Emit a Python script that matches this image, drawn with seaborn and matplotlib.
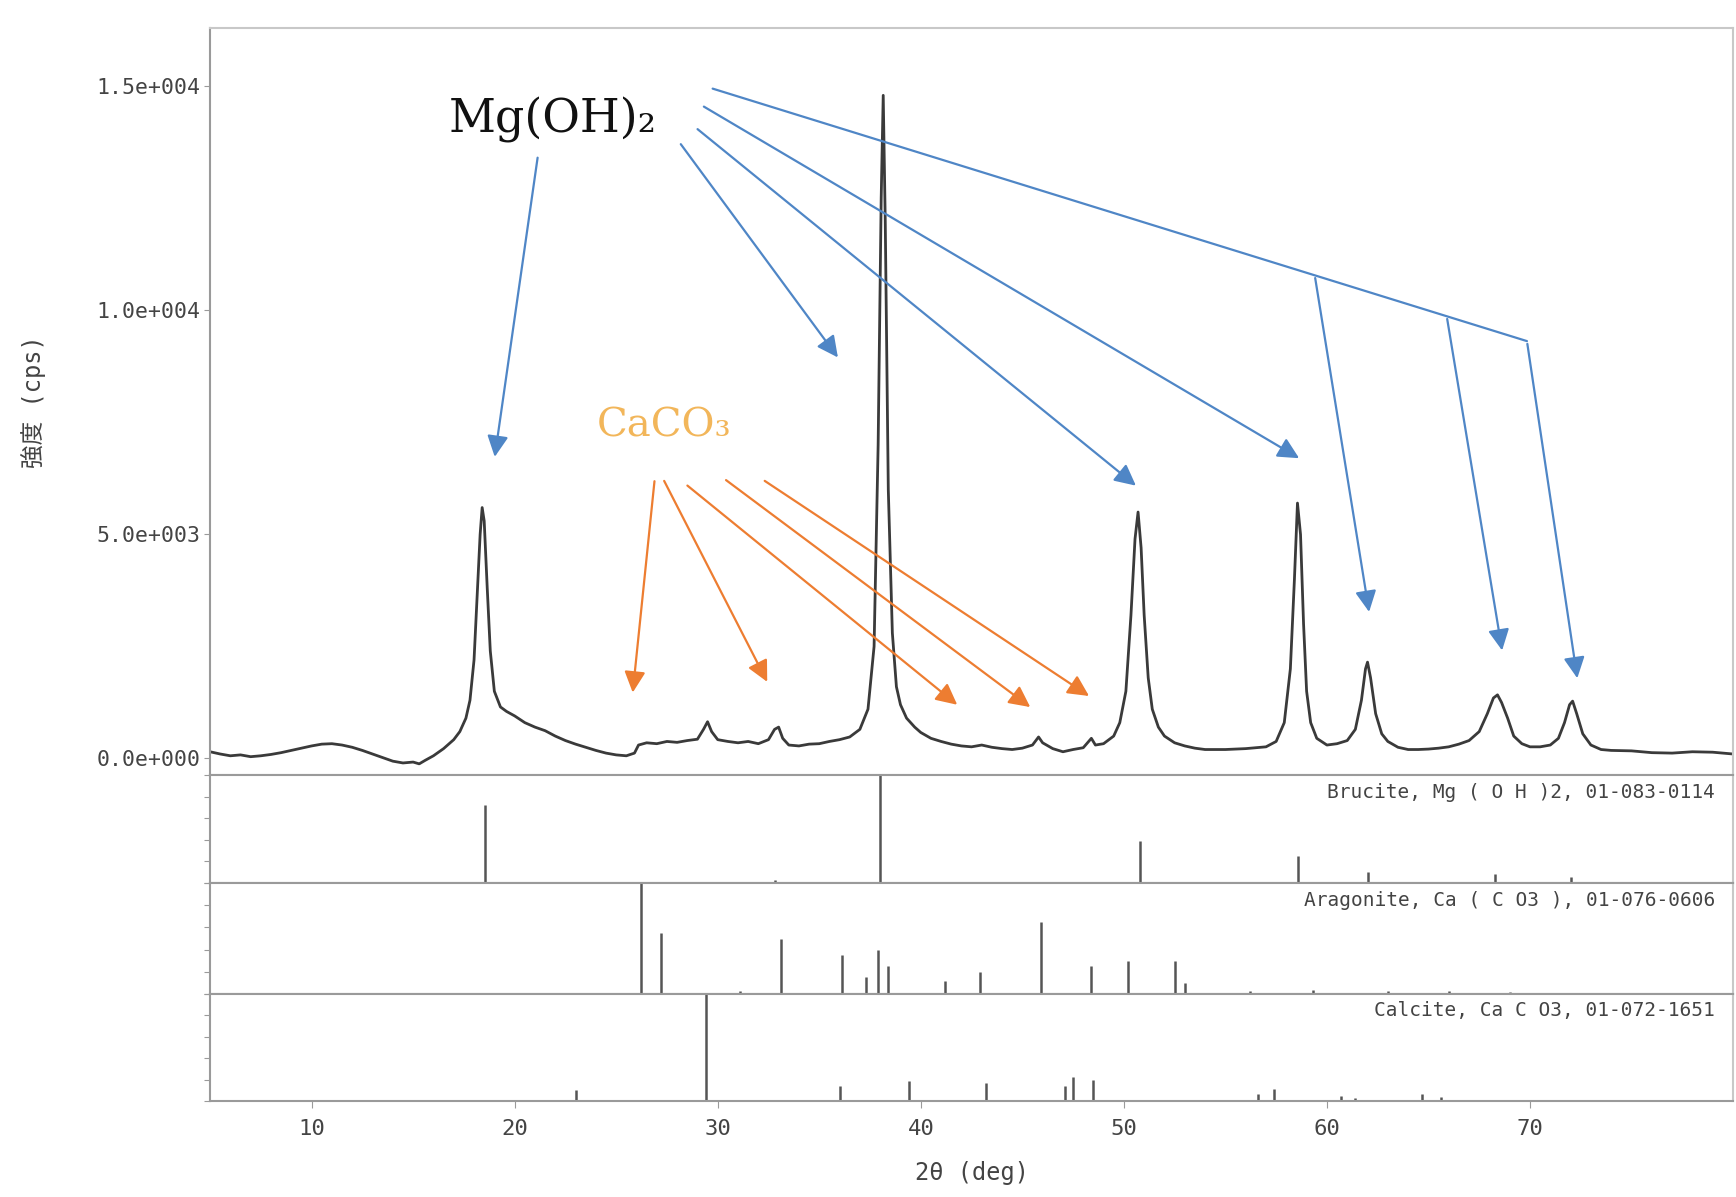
import seaborn as sns
import matplotlib.pyplot as plt
import numpy as np
import pandas as pd

sns.set_style("white")
plt.rcParams['font.family'] = ['DejaVu Sans Mono', 'Noto Sans CJK JP']

# 測定データ (2θ [deg], 強度 [cps]) 図から読み取り
two_theta = [5.0, 5.5, 6.0, 6.5, 7.0, 7.5, 8.0, 8.5, 9.0, 9.5, 10.0, 10.5, 11.0, 11.5, 12.0, 12.5,
             13.0, 13.5, 14.0, 14.5, 15.0, 15.3, 15.6, 16.0, 16.5, 17.0, 17.3, 17.6, 17.8, 18.0,
             18.15, 18.3, 18.4, 18.5, 18.65, 18.8, 19.0, 19.3, 19.6, 20.0, 20.5, 21.0, 21.5, 22.0,
             22.5, 23.0, 23.5, 24.0, 24.5, 25.0, 25.5, 25.9, 26.1, 26.5, 27.0, 27.5, 28.0, 28.5,
             29.0, 29.3, 29.5, 29.7, 30.0, 30.5, 31.0, 31.5, 32.0, 32.5, 32.8, 33.0, 33.2, 33.5,
             34.0, 34.5, 35.0, 35.5, 36.0, 36.5, 37.0, 37.4, 37.7, 37.9, 38.05, 38.15, 38.25, 38.4,
             38.6, 38.8, 39.0, 39.3, 39.7, 40.0, 40.5, 41.0, 41.5, 42.0, 42.5, 43.0, 43.5, 44.0,
             44.5, 45.0, 45.5, 45.8, 46.0, 46.5, 47.0, 47.5, 48.0, 48.4, 48.6, 49.0, 49.5, 49.8,
             50.1, 50.35, 50.55, 50.7, 50.85, 51.0, 51.2, 51.4, 51.7, 52.0, 52.5, 53.0, 53.5, 54.0,
             55.0, 56.0, 57.0, 57.5, 57.9, 58.2, 58.4, 58.55, 58.7, 58.85, 59.0, 59.2, 59.5, 60.0,
             60.5, 61.0, 61.4, 61.7, 61.9, 62.0, 62.15, 62.4, 62.7, 63.0, 63.5, 64.0, 64.5, 65.0,
             65.5, 66.0, 66.5, 67.0, 67.5, 67.9, 68.2, 68.4, 68.6, 68.9, 69.2, 69.6, 70.0, 70.5,
             71.0, 71.4, 71.7, 71.95, 72.1, 72.3, 72.6, 73.0, 73.5, 74.0, 75.0, 76.0, 77.0, 78.0,
             79.0, 80.0]
intensity = [150, 100, 60, 80, 40, 60, 90, 130, 180, 230, 280, 320, 330, 300, 250, 180,
             100, 20, -60, -100, -80, -120, -40, 60, 220, 420, 600, 900, 1300, 2200,
             3600, 5000, 5600, 5300, 3800, 2400, 1500, 1150, 1050, 950, 800, 700, 620, 500,
             400, 320, 250, 180, 120, 80, 60, 120, 300, 350, 330, 380, 360, 400,
             430, 650, 820, 600, 420, 380, 350, 380, 330, 420, 650, 700, 450, 300,
             280, 320, 330, 380, 420, 480, 650, 1100, 2500, 7000, 12500, 14800, 12000, 6000,
             2800, 1600, 1200, 900, 700, 580, 450, 380, 320, 280, 260, 300, 250, 220,
             200, 230, 300, 480, 350, 220, 150, 200, 240, 450, 300, 330, 500, 800,
             1500, 3200, 4900, 5500, 4700, 3200, 1800, 1100, 700, 500, 350, 280, 230, 200,
             200, 220, 260, 380, 800, 2000, 4000, 5700, 5000, 3000, 1500, 800, 450, 300,
             330, 400, 650, 1300, 2000, 2150, 1800, 1000, 550, 380, 250, 200, 200, 210,
             230, 260, 320, 400, 600, 1000, 1350, 1420, 1250, 900, 500, 330, 260, 260,
             300, 450, 800, 1200, 1280, 1000, 550, 300, 200, 180, 170, 130, 120, 150,
             140, 100]

# 参照パターン (位置 [deg], 相対強度 [%])
brucite_pos = [18.55, 32.8, 38.0, 50.8, 58.6, 62.0, 68.3, 72.0]
brucite_int = [72, 3, 100, 39, 25, 10, 8, 6]
aragonite_pos = [26.2, 27.2, 31.1, 33.1, 36.1, 37.3, 37.9, 38.4, 41.2, 42.9, 45.9, 48.4,
                 50.2, 52.5, 53.0, 56.2, 59.3, 63.0, 66.0, 69.0]
aragonite_int = [100, 55, 3, 50, 35, 15, 40, 25, 12, 20, 65, 25, 30, 30, 10, 3, 4, 3, 3, 2]
calcite_pos = [23.0, 29.4, 36.0, 39.4, 43.2, 47.1, 47.5, 48.5, 56.6, 57.4, 60.7, 61.4, 64.7, 65.6]
calcite_int = [10, 100, 14, 19, 17, 14, 22, 20, 7, 11, 5, 3, 7, 4]
phase_names = ["Brucite, Mg ( O H )2, 01-083-0114",
               "Aragonite, Ca ( C O3 ), 01-076-0606",
               "Calcite, Ca C O3, 01-072-1651"]

df = pd.DataFrame({"2theta": two_theta, "int": intensity})

blue = "#4F86C6"
orange = "#ED7D31"
spine_c = "#9a9a9a"
txt_c = "#444"

fig = plt.figure(figsize=(17.36, 11.97), dpi=100)
ax = fig.add_axes([0.121, 0.3525, 0.8773, 0.624])
subs = [fig.add_axes([0.121, 0.2623, 0.8773, 0.0902]),
        fig.add_axes([0.121, 0.1696, 0.8773, 0.0927]),
        fig.add_axes([0.121, 0.0802, 0.8773, 0.0894])]

sns.lineplot(df, x="2theta", y="int", ax=ax, color="#3a3a3a", lw=2.0)
ax.set_xlim(5, 80)
ax.set_ylim(-370, 16300)
ax.set_yticks([0, 5000, 10000, 15000])
ax.set_yticklabels(["0.0e+000", "5.0e+003", "1.0e+004", "1.5e+004"], fontsize=15.5, color=txt_c)
ax.set_xticks([])
ax.set_xlabel("")
ax.set_ylabel("強度 (cps)", fontsize=17, color=txt_c)
ax.yaxis.set_label_coords(-0.108, 0.5)
ax.tick_params(axis="y", direction="out", length=4, color=spine_c, left=True, pad=3)
for s in ax.spines.values():
    s.set_color("#c8c8c8")
    s.set_linewidth(1.5)
ax.spines["left"].set_color(spine_c)

# 参照スティック
for sa, pos, hh, name in zip(subs, [brucite_pos, aragonite_pos, calcite_pos],
                             [brucite_int, aragonite_int, calcite_int], phase_names):
    sa.vlines(pos, 0, hh, color="#555", lw=1.8)
    sa.set_xlim(5, 80)
    sa.set_ylim(0, 100)
    sa.set_yticks(np.arange(0, 101, 20))
    sa.set_yticklabels([])
    sa.tick_params(axis="y", direction="out", length=4, color=spine_c, left=True)
    sa.tick_params(axis="x", length=0)
    sa.set_xticklabels([])
    for s in sa.spines.values():
        s.set_color(spine_c)
        s.set_linewidth(1.5)
    sa.spines["right"].set_color("#c8c8c8")
    sa.text(0.988, 0.93, name, transform=sa.transAxes, ha="right", va="top",
            fontsize=14, color=txt_c)

bot = subs[-1]
bot.set_xticks(range(10, 80, 10))
bot.set_xticklabels([str(v) for v in range(10, 80, 10)], fontsize=16, color=txt_c)
bot.tick_params(axis="x", direction="out", length=5, color=spine_c, bottom=True, pad=8)
bot.set_xlabel("2θ (deg)", fontsize=17, color=txt_c, labelpad=16)

# Mg(OH)2 矢印
ax.text(21.9, 14260, "Mg(OH)₂", fontsize=33, ha="center", va="center",
        family=["DejaVu Serif"], color="#111")
ap_b = dict(arrowstyle="-|>", color=blue, lw=1.6, mutation_scale=32)
mg_arrows = [((21.15, 13470), (19.0, 6670)),
             ((28.1, 13760), (36.0, 8900)),
             ((28.9, 14085), (50.7, 6050)),
             ((29.2, 14580), (58.75, 6670)),
             ((59.4, 10784), (62.1, 3210)),
             ((65.9, 9871), (68.65, 2350)),
             ((69.85, 9315), (72.35, 1730))]
ax.plot([29.75, 69.85], [14950, 9315], color=blue, lw=1.6)
for st, tip in mg_arrows:
    ax.annotate("", xy=tip, xytext=st, arrowprops=ap_b)

# CaCO3 矢印
ax.text(27.35, 7410, "CaCO₃", fontsize=29, ha="center", va="center",
        family=["DejaVu Serif"], color="#F2B65A")
ap_o = dict(arrowstyle="-|>", color=orange, lw=1.6, mutation_scale=32)
ca_arrows = [((26.9, 6250), (25.8, 1410)),
             ((27.3, 6250), (32.5, 1655)),
             ((28.4, 6130), (41.9, 1160)),
             ((30.3, 6250), (45.5, 1110)),
             ((32.2, 6230), (48.4, 1360))]
for st, tip in ca_arrows:
    ax.annotate("", xy=tip, xytext=st, arrowprops=ap_o)

plt.savefig("out.png", dpi=100)
